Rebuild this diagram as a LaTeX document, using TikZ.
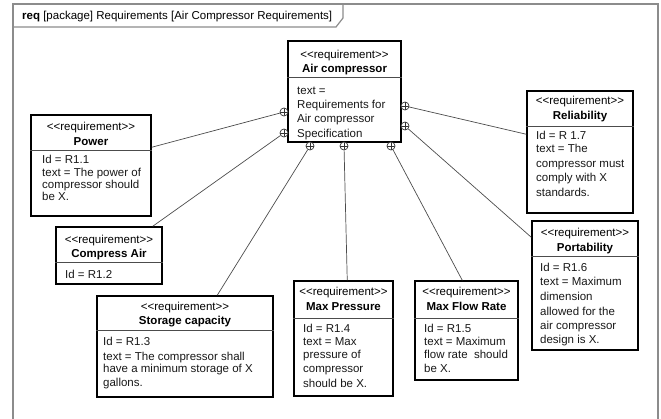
\documentclass[tikz,border=0pt]{standalone}
\usepackage{fontspec}
\setmainfont{Liberation Sans}
\usetikzlibrary{calc}

% kerns keep the two angle brackets from merging into a guillemet
\newcommand\stereo{<\kern0pt<\kern0pt requirement>\kern0pt>}

\tikzset{
  frameline/.style={draw=black!45, line width=1.2pt},
  reqbox/.style={draw=black, line width=1.5pt, inner sep=0pt, fill=white},
  divline/.style={draw=black!70, line width=0.8pt},
  hdr/.style={font=\fontsize{11.5}{13}\selectfont, inner sep=0pt, anchor=base},
  rname/.style={font=\fontsize{11.5}{13}\selectfont\bfseries, inner sep=0pt, anchor=base},
  bodyl/.style={font=\fontsize{11.5}{13}\selectfont, inner sep=0pt, anchor=base west, text=black!90},
  conn/.style={draw=black!70, line width=0.7pt},
  cplus/.style={circle, draw=black!80, line width=0.7pt, fill=white, minimum size=8pt, inner sep=0pt,
    path picture={\draw[black!80, line width=0.6pt]
      (path picture bounding box.north) -- (path picture bounding box.south)
      (path picture bounding box.west) -- (path picture bounding box.east);}}
}

\begin{document}
\begin{tikzpicture}[x=1pt, y=-1pt]
\useasboundingbox (0,0) rectangle (661,419);

% diagram frame with its name tab
\draw[frameline] (13,425) -- (13,4) -- (658,4) -- (658,425);
\draw[frameline] (13,27) -- (336,27) -- (343,18) -- (343,4);
\node[font=\fontsize{11.5}{13}\selectfont, inner sep=0pt, anchor=base west] (title) at (22,20)
  {\textbf{req} [package] Requirements [Air Compressor Requirements]};

% Air compressor (top-level requirement)
\node[reqbox, minimum width=113, minimum height=101] (air) at (344.5,91.5) {};
\draw[divline] ($(air.north west)+(0,37)$) -- ($(air.north east)+(0,37)$);
\node[hdr] (air-s) at (344.5,59) {\stereo};
\node[rname] (air-n) at (344.5,73) {Air compressor};
\node[bodyl] (air-b1) at (297,95) {text =};
\node[bodyl] (air-b2) at (297,109) {Requirements for};
\node[bodyl] (air-b3) at (297,123) {Air compressor};
\node[bodyl] (air-b4) at (297,138) {Specification};

% Power
\node[reqbox, minimum width=120, minimum height=101] (pow) at (91,165.5) {};
\draw[divline] ($(pow.north west)+(0,36)$) -- ($(pow.north east)+(0,36)$);
\node[hdr] (pow-s) at (91,131) {\stereo};
\node[rname] (pow-n) at (91,146) {Power};
\node[bodyl] (pow-b1) at (42,164) {Id = R1.1};
\node[bodyl] (pow-b2) at (42,177) {text = The power of};
\node[bodyl] (pow-b3) at (42,189) {compressor should};
\node[bodyl] (pow-b4) at (42,201) {be X.};

% Compress Air
\node[reqbox, minimum width=106, minimum height=57] (cmp) at (109,255.5) {};
\draw[divline] ($(cmp.north west)+(0,36)$) -- ($(cmp.north east)+(0,36)$);
\node[hdr] (cmp-s) at (109,244) {\stereo};
\node[rname] (cmp-n) at (109,258) {Compress Air};
\node[bodyl] (cmp-b1) at (65,279) {Id = R1.2};

% Storage capacity
\node[reqbox, minimum width=176, minimum height=101] (sto) at (185,346.5) {};
\draw[divline] ($(sto.north west)+(0,35)$) -- ($(sto.north east)+(0,35)$);
\node[hdr] (sto-s) at (185,311) {\stereo};
\node[rname] (sto-n) at (185,325) {Storage capacity};
\node[bodyl] (sto-b1) at (103,346) {Id = R1.3};
\node[bodyl] (sto-b2) at (103,360) {text = The compressor shall};
\node[bodyl] (sto-b3) at (103,373) {have a minimum storage of X};
\node[bodyl] (sto-b4) at (103,386) {gallons.};

% Max Pressure
\node[reqbox, minimum width=99, minimum height=115] (mp) at (343.5,338.5) {};
\draw[divline] ($(mp.north west)+(0,38)$) -- ($(mp.north east)+(0,38)$);
\node[hdr] (mp-s) at (343.5,296) {\stereo};
\node[rname] (mp-n) at (343.5,311) {Max Pressure};
\node[bodyl] (mp-b1) at (303,333) {Id = R1.4};
\node[bodyl] (mp-b2) at (303,346) {text = Max};
\node[bodyl] (mp-b3) at (303,359) {pressure of};
\node[bodyl] (mp-b4) at (303,373) {compressor};
\node[bodyl] (mp-b5) at (303,387) {should be X.};

% Max Flow Rate
\node[reqbox, minimum width=103, minimum height=99] (mf) at (466.5,330.5) {};
\draw[divline] ($(mf.north west)+(0,38)$) -- ($(mf.north east)+(0,38)$);
\node[hdr] (mf-s) at (466.5,296) {\stereo};
\node[rname] (mf-n) at (466.5,311) {Max Flow Rate};
\node[bodyl] (mf-b1) at (424,333) {Id = R1.5};
\node[bodyl] (mf-b2) at (424,346) {text = Maximum};
\node[bodyl] (mf-b3) at (424,359) {flow rate\ \ should};
\node[bodyl] (mf-b4) at (424,373) {be X.};

% Reliability
\node[reqbox, minimum width=106, minimum height=122] (rel) at (580,152) {};
\draw[divline] ($(rel.north west)+(0,36)$) -- ($(rel.north east)+(0,36)$);
\node[hdr] (rel-s) at (580,105) {\stereo};
\node[rname] (rel-n) at (580,120) {Reliability};
\node[bodyl] (rel-b1) at (536,140) {Id = R 1.7};
\node[bodyl] (rel-b2) at (536,153) {text = The};
\node[bodyl] (rel-b3) at (536,168) {compressor must};
\node[bodyl] (rel-b4) at (536,182) {comply with X};
\node[bodyl] (rel-b5) at (536,197) {standards.};

% Portability
\node[reqbox, minimum width=106, minimum height=129] (por) at (585,285.5) {};
\draw[divline] ($(por.north west)+(0,36)$) -- ($(por.north east)+(0,36)$);
\node[hdr] (por-s) at (585,237) {\stereo};
\node[rname] (por-n) at (585,252) {Portability};
\node[bodyl] (por-b1) at (540,272) {Id = R1.6};
\node[bodyl] (por-b2) at (540,286) {text = Maximum};
\node[bodyl] (por-b3) at (540,301) {dimension};
\node[bodyl] (por-b4) at (540,316) {allowed for the};
\node[bodyl] (por-b5) at (540,330) {air compressor};
\node[bodyl] (por-b6) at (540,344) {design is X.};

% containment markers on the owning requirement
\node[cplus] (c1) at (284,112) {};
\node[cplus] (c2) at (284,133) {};
\node[cplus] (c3) at (310,146) {};
\node[cplus] (c4) at (344,146) {};
\node[cplus] (c5) at (391,146) {};
\node[cplus] (c6) at (405,106) {};
\node[cplus] (c7) at (405,126) {};

% containment links
\draw[conn] ($(pow.north east)+(0,33)$) -- (c1);
\draw[conn] ($(cmp.north east)+(-10,0)$) -- (c2);
\draw[conn] ($(sto.north west)+(121,0)$) -- (c3);
\draw[conn] ($(mp.north west)+(54,0)$) -- (c4);
\draw[conn] ($(mf.north west)+(48,0)$) -- (c5);
\draw[conn] ($(rel.north west)+(0,44)$) -- (c6);
\draw[conn] ($(por.north west)+(0,17)$) -- (c7);
\end{tikzpicture}
\end{document}
